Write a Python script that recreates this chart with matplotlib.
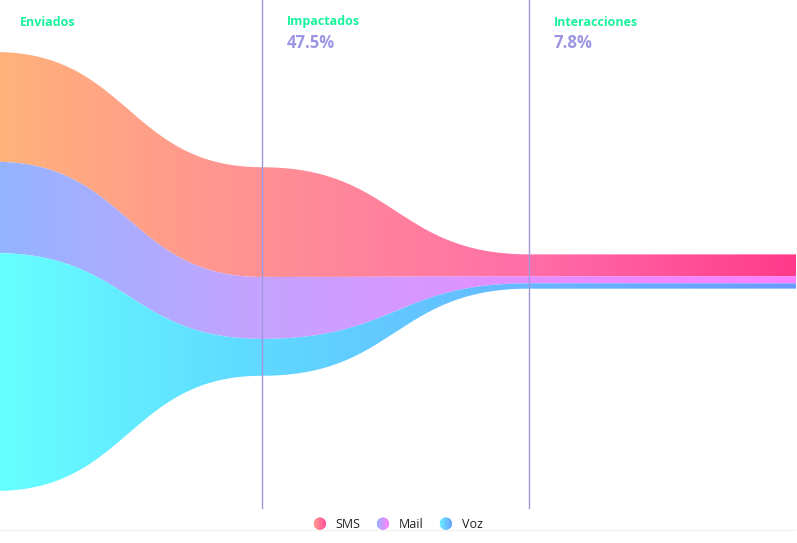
import numpy as np
import matplotlib
matplotlib.use('Agg')
import matplotlib.pyplot as plt
from matplotlib.colors import LinearSegmentedColormap
from matplotlib.path import Path
from matplotlib.patches import PathPatch, Polygon, Patch
from matplotlib.legend_handler import HandlerBase
from matplotlib.lines import Line2D

# ---------------- data ----------------
stages = ['Enviados', 'Impactados', 'Interacciones']
series = ['SMS', 'Mail', 'Voz']
sms = [2500, 2500, 500]
mail = [2080, 1410, 160]
voz = [5420, 840, 120]

# gradient stops per series (left -> right)
sms_colors = ['#ffb27a', '#ff9094', '#ff6fa8', '#ff3a8a']
mail_colors = ['#94b4ff', '#c6a3ff', '#e48eff', '#ff80ff']
voz_colors = ['#66ffff', '#5fd8ff', '#66b8ff', '#6a9aff']
legend_colors = [['#ff9a8a', '#ff4d9a'], ['#99b0ff', '#ff80ff'], ['#66f0ff', '#66a0ff']]

title_color = '#17f29b'
pct_color = '#9c95e3'
line_color = '#a098e0'

values = np.array([sms, mail, voz], dtype=float)
totals = values.sum(axis=0)
pcts = totals / totals[0] * 100

# boundaries (top of stack to bottom), centred around 0
bounds = [totals / 2]
for row in values:
    bounds.append(bounds[-1] - row)
bounds = np.array(bounds)  # shape (4, nstages)

# ---------------- curve construction ----------------
s = np.linspace(0, 1, 120)
bx = 1.5 * s * (1 - s) + s ** 3
by = 3 * s ** 2 - 2 * s ** 3
xs_list = []
ys_list = [[] for _ in range(bounds.shape[0])]
for i in range(len(stages) - 1):
    xs_list.append(i + bx)
    for b in range(bounds.shape[0]):
        ys_list[b].append(bounds[b, i] + (bounds[b, i + 1] - bounds[b, i]) * by)
# flat tail after last stage
tail = np.linspace(len(stages) - 1, len(stages) + 0.2, 10)
xs_list.append(tail)
for b in range(bounds.shape[0]):
    ys_list[b].append(np.full_like(tail, bounds[b, -1]))
X = np.concatenate(xs_list)
Y = [np.concatenate(v) for v in ys_list]

# ---------------- figure ----------------
fig = plt.figure(figsize=(7.97, 5.43), dpi=100)
ax = fig.add_axes([0, 0, 1, 1])
ax.set_axis_off()
xmin = 5 / 267
xmax = xmin + 797 / 267
ymax = 6185

grad = np.linspace(0, 1, 512).reshape(1, -1)
stops = [0, 0.33, 0.66, 1.0]
for k, cols in enumerate([sms_colors, mail_colors, voz_colors]):
    upper = Y[k]
    lower = Y[k + 1]
    verts = np.concatenate([np.c_[X, upper], np.c_[X[::-1], lower[::-1]]])
    path = Path(verts, closed=False)
    patch = PathPatch(path, facecolor='none', edgecolor='none')
    ax.add_patch(patch)
    cmap = LinearSegmentedColormap.from_list('g%d' % k, list(zip(stops, cols)))
    im = ax.imshow(grad, extent=[xmin, xmax - 1 / 267, -ymax, ymax], aspect='auto',
                   cmap=cmap, interpolation='bilinear', origin='lower', zorder=1)
    im.set_clip_path(patch)

ax.set_xlim(xmin, xmax)
ax.set_ylim(-ymax, ymax)

# vertical separators
for i in range(1, len(stages)):
    ax.axvline(i, ymin=(543 - 508) / 543, ymax=1, color=line_color, lw=1, zorder=3)

# titles & percentages
for i, name in enumerate(stages):
    ax.annotate(name, xy=(i, 1), xycoords=('data', 'axes fraction'),
                xytext=(25, -22), textcoords='offset pixels',
                ha='left', va='center', fontsize=9, fontweight='bold',
                color=title_color, family=['Open Sans', 'DejaVu Sans'])
    if i > 0:
        ax.annotate('%.1f%%' % pcts[i], xy=(i, 1), xycoords=('data', 'axes fraction'),
                    xytext=(25, -43), textcoords='offset pixels',
                    ha='left', va='center', fontsize=12, fontweight='bold',
                    color=pct_color, family=['Open Sans', 'DejaVu Sans'])

# faint bottom line
fig.add_artist(Line2D([0, 795 / 797], [1 - 529.5 / 543] * 2, color='#f2f2f2', lw=1,
                      transform=fig.transFigure))


# ---------------- legend with gradient circles ----------------
class GradCircle(HandlerBase):
    def __init__(self, c0, c1):
        super().__init__()
        self.cmap = LinearSegmentedColormap.from_list('lg', [c0, c1])

    def create_artists(self, legend, orig_handle, xdescent, ydescent, width, height,
                       fontsize, trans):
        r = 4.2
        cx = width / 2 - xdescent
        cy = height / 2 - ydescent
        arts = []
        n = 14
        for k in range(n):
            xa = -r + 2 * r * k / n
            xb = xa + 2 * r / n
            xx = np.linspace(xa, xb, 6)
            yy = np.sqrt(np.clip(r * r - xx ** 2, 0, None))
            pts = np.concatenate([np.c_[xx, yy], np.c_[xx[::-1], -yy[::-1]]]) + [cx, cy]
            c = self.cmap((k + 0.5) / n)
            arts.append(Polygon(pts, closed=True, facecolor=c, edgecolor=c, lw=0.4,
                                transform=trans))
        return arts


handles = [Patch(label=n) for n in series]
hmap = {h: GradCircle(*legend_colors[i]) for i, h in enumerate(handles)}
leg = fig.legend(handles=handles, labels=series, loc='center',
                 bbox_to_anchor=(398 / 797, 1 - 524.5 / 543), ncol=3, frameon=False,
                 handler_map=hmap, handlelength=1.0, handletextpad=0.75,
                 columnspacing=1.3, prop={'family': ['Open Sans', 'DejaVu Sans'], 'size': 9})
for t in leg.get_texts():
    t.set_color('#222222')

fig.savefig('out.png', dpi=100)
